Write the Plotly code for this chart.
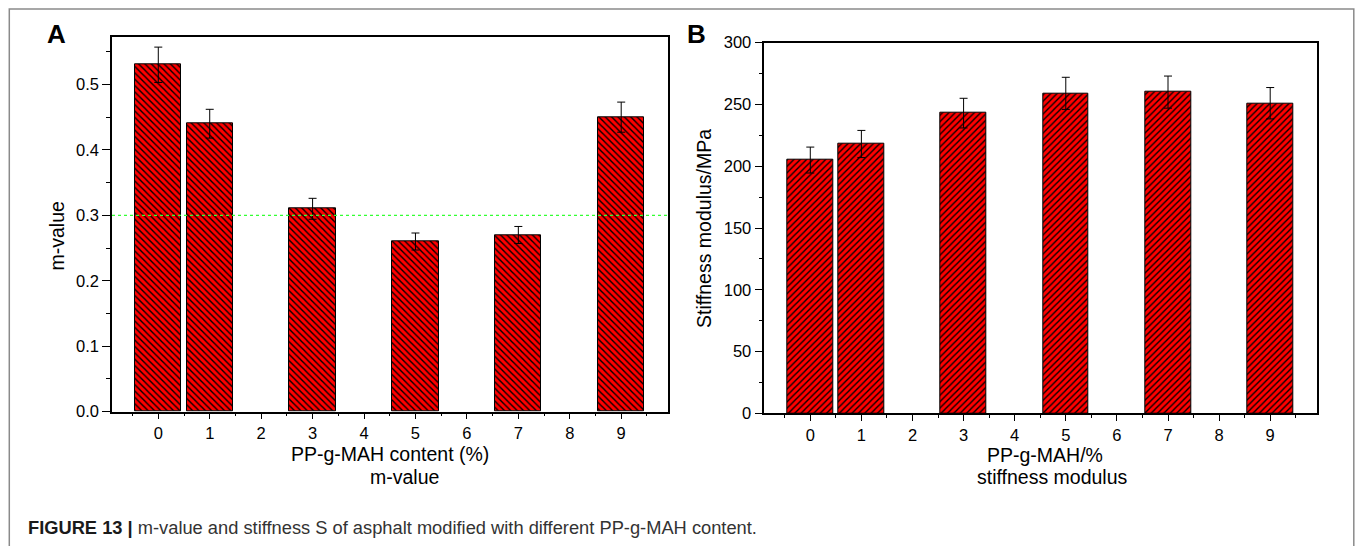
import plotly.graph_objects as go

# PP-g-MAH content (%) of the tested samples
content = [0, 1, 3, 5, 7, 9]
x_ticks = list(range(10))

# BBR creep rate (m-value) with standard deviation
m_value = [0.53, 0.44, 0.31, 0.26, 0.27, 0.45]
m_err = [0.027, 0.022, 0.016, 0.013, 0.013, 0.023]
m_limit = 0.3

# Creep stiffness S (MPa) with standard deviation
stiffness = [205, 218, 243, 259, 260, 251]
s_err = [10.5, 11, 12, 13, 13, 12.7]

m_ticks = [0.0, 0.1, 0.2, 0.3, 0.4, 0.5]
s_ticks = [0, 50, 100, 150, 200, 250, 300]

W, H = 1355, 546
FONT = "Liberation Sans, Arial, sans-serif"


def fx(x):
    return x / W


def fy(y):
    return 1 - y / H


RED = "#ff0000"


def bar_trace(xv, yv, err, shape, xa, ya):
    return go.Bar(
        x=xv, y=yv, width=0.9, xaxis=xa, yaxis=ya, showlegend=False,
        marker=dict(
            color=RED,
            line=dict(color="black", width=1),
            pattern=dict(shape=shape, fgcolor="black", bgcolor=RED,
                         size=4.5, solidity=0.3, fillmode="replace"),
        ),
        error_y=dict(type="data", array=err, color="black",
                     thickness=1, width=4),
    )


fig = go.Figure()
fig.add_trace(bar_trace(content, m_value, m_err, "\\", "x", "y"))
fig.add_trace(bar_trace(content, stiffness, s_err, "/", "x2", "y2"))

axis_common = dict(
    showline=True, linecolor="black", linewidth=1.5, mirror=True,
    showgrid=False, zeroline=False, ticks="outside", tickcolor="black",
    tickwidth=1.2, automargin=False,
    tickfont=dict(family=FONT, size=16.5, color="black"),
)

x_common = dict(
    axis_common, range=[-0.9, 9.91], tickvals=x_ticks, ticklen=6,
    minor=dict(tick0=-0.5, dtick=1, ticks="outside", ticklen=3,
               tickcolor="black", tickwidth=1.2),
)

fig.update_layout(
    width=W, height=H, autosize=False,
    margin=dict(l=0, r=0, t=0, b=0),
    paper_bgcolor="white", plot_bgcolor="white",
    bargap=0,
    xaxis=dict(x_common, domain=[fx(112), fx(668)], anchor="y"),
    yaxis=dict(axis_common, domain=[fy(411.7), fy(37.3)], anchor="x",
               range=[0, 0.572], tickvals=m_ticks, tickformat=".1f",
               ticklen=8,
               minor=dict(dtick=0.05, ticks="outside", ticklen=4,
                          tickcolor="black", tickwidth=1.2)),
    xaxis2=dict(x_common, domain=[fx(764.3), fx(1316.7)], anchor="y2"),
    yaxis2=dict(axis_common, domain=[fy(413.3), fy(42.7)], anchor="x2",
                range=[0, 300], tickvals=s_ticks, ticklen=8,
                minor=dict(dtick=25, ticks="outside", ticklen=4,
                           tickcolor="black", tickwidth=1.2)),
)

# specification limit for the m-value
fig.add_shape(type="line", xref="x domain", x0=0, x1=1, yref="y",
              y0=m_limit, y1=m_limit,
              line=dict(color="#33ff33", width=1.3, dash="dot"))

# outer figure frame
fig.add_shape(type="rect", xref="paper", yref="paper",
              x0=fx(9.3), x1=fx(1353.8), y0=fy(600), y1=fy(9),
              line=dict(color="#8a8a8a", width=1.5))


def label(text, x, y, size=19.5, angle=0, xanchor="center", color="black",
          bold=False):
    fig.add_annotation(
        text=f"<b>{text}</b>" if bold else text,
        x=fx(x), y=fy(y), xref="paper", yref="paper", showarrow=False,
        xanchor=xanchor, yanchor="middle", textangle=angle,
        font=dict(family=FONT, size=size, color=color),
    )


label("A", 56.5, 33.5, size=26, bold=True)
label("B", 696.5, 34, size=26, bold=True)
label("m-value", 56.5, 236, angle=-90)
label("Stiffness modulus/MPa", 704, 228, angle=-90)
label("PP-g-MAH content (%)", 390, 454)
label("m-value", 404, 477)
label("PP-g-MAH/%", 1045, 455)
label("stiffness modulus", 1052, 477)
label("<b>FIGURE 13 |</b> <span style='color:#333333'>m-value and stiffness S of "
      "asphalt modified with different PP-g-MAH content.</span>",
      26, 527, size=18.3, xanchor="left", color="#1a1a1a")

fig.write_html("out.html")
